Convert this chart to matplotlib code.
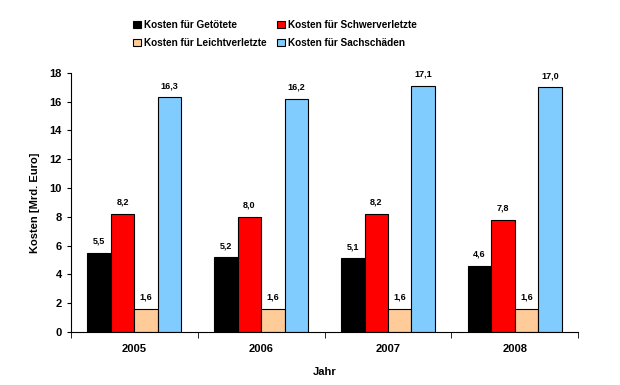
import numpy as np
import matplotlib.pyplot as plt

plt.rcParams['font.family'] = ['Liberation Sans', 'DejaVu Sans']
plt.rcParams['font.weight'] = 'bold'

jahre = ['2005', '2006', '2007', '2008']
serien = ['Kosten für Getötete', 'Kosten für Schwerverletzte',
          'Kosten für Leichtverletzte', 'Kosten für Sachschäden']
getoetete = [5.5, 5.2, 5.1, 4.6]
schwer = [8.2, 8.0, 8.2, 7.8]
leicht = [1.6, 1.6, 1.6, 1.6]
sach = [16.3, 16.2, 17.1, 17.0]
farben = ['#000000', '#FF0000', '#FFCC99', '#80CCFF']

fig = plt.figure(figsize=(6.2, 3.85), dpi=100)
ax = fig.add_axes([0.1145, 0.138, 0.818, 0.673])

x = np.arange(len(jahre))
w = 0.185
for i, (werte, name) in enumerate(zip([getoetete, schwer, leicht, sach], serien)):
    pos = x + (i - 1.5) * w
    ax.bar(pos, werte, w, color=farben[i], edgecolor='black', linewidth=0.8, label=name)
    for p, v in zip(pos, werte):
        ax.annotate(f'{v:.1f}'.replace('.', ','), (p, v), xytext=(0, 5),
                    textcoords='offset points', ha='center', va='bottom',
                    fontsize=6.5, fontweight='bold')

ax.set_xlim(-0.5, len(jahre) - 0.5)
ax.set_ylim(0, 18)
ax.set_yticks(range(0, 19, 2))
ax.set_xticks(x)
ax.set_xticklabels(jahre)
ax.set_xticks(np.arange(-0.5, len(jahre), 1), minor=True)
ax.tick_params(axis='x', which='major', length=0, pad=9, labelsize=8)
ax.tick_params(axis='x', which='minor', length=4, direction='out')
ax.tick_params(axis='y', length=3, direction='out', labelsize=8)
for s in ['top', 'right']:
    ax.spines[s].set_visible(False)
ax.set_xlabel('Jahr', fontsize=8, fontweight='bold', labelpad=9)
ax.set_ylabel('Kosten [Mrd. Euro]', fontsize=8, fontweight='bold', labelpad=7)

# Excel-Reihenfolge: zeilenweise
h, l = ax.get_legend_handles_labels()
order = [0, 2, 1, 3]
fig.legend([h[k] for k in order], [l[k] for k in order],
           loc='upper left', bbox_to_anchor=(0.2, 0.972), ncol=2, frameon=False,
           fontsize=7.2, handlelength=0.75, handleheight=0.75, handletextpad=0.3,
           columnspacing=1.1, labelspacing=0.8)

fig.savefig('out.png', dpi=100)
